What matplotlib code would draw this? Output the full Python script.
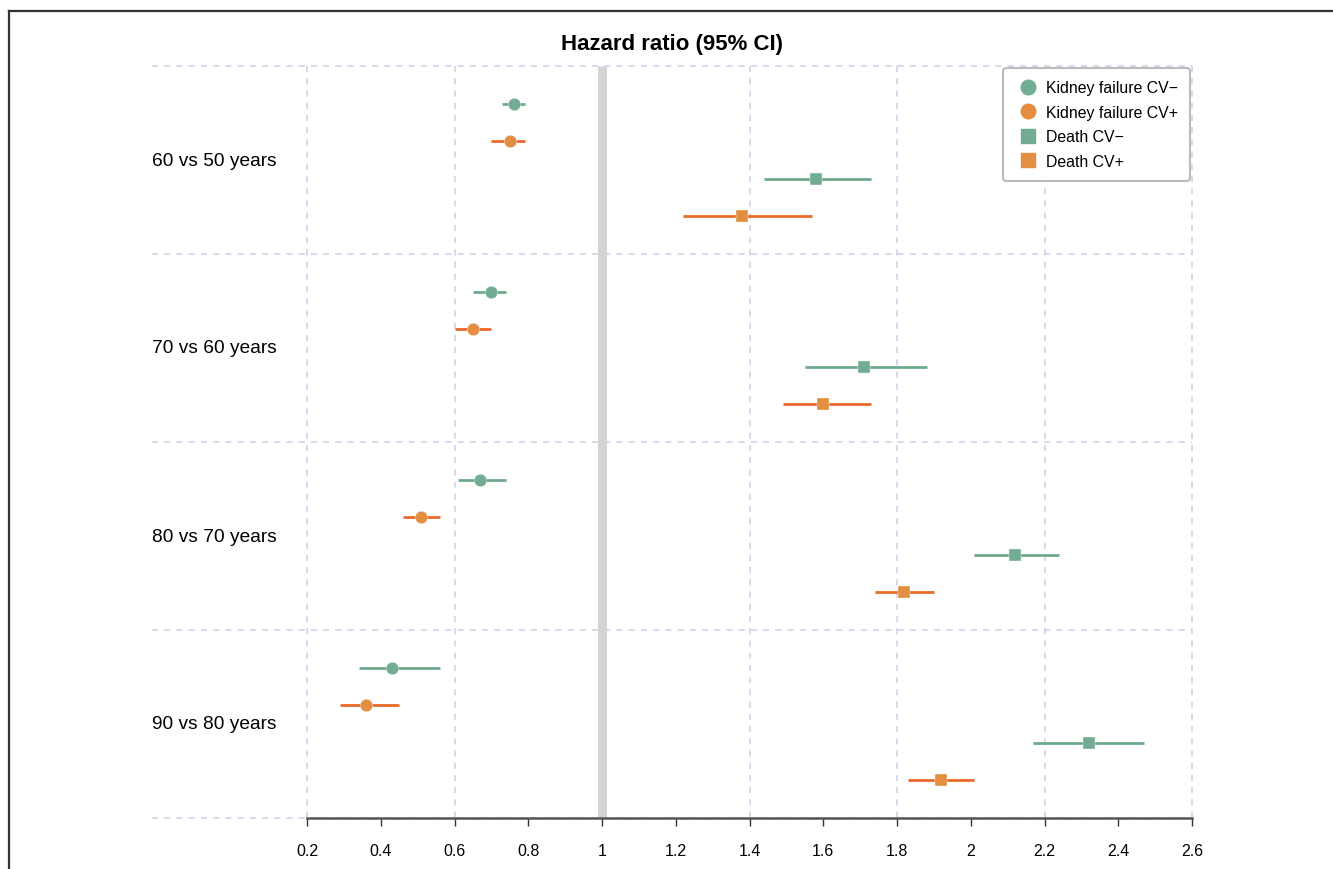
import matplotlib
matplotlib.use("Agg")
import matplotlib.pyplot as plt
from matplotlib.lines import Line2D
import numpy as np

plt.rcParams['font.family'] = ['Liberation Sans', 'DejaVu Sans']

groups = ["60 vs 50 years", "70 vs 60 years", "80 vs 70 years", "90 vs 80 years"]
series = ["Kidney failure CV\u2212", "Kidney failure CV+", "Death CV\u2212", "Death CV+"]

# hazard ratio, lower CI, upper CI per group
kf_neg = [0.76, 0.70, 0.67, 0.43]
kf_neg_lo = [0.73, 0.65, 0.61, 0.34]
kf_neg_hi = [0.79, 0.74, 0.74, 0.56]

kf_pos = [0.75, 0.65, 0.51, 0.36]
kf_pos_lo = [0.70, 0.60, 0.46, 0.29]
kf_pos_hi = [0.79, 0.70, 0.56, 0.45]

d_neg = [1.58, 1.71, 2.12, 2.32]
d_neg_lo = [1.44, 1.55, 2.01, 2.17]
d_neg_hi = [1.73, 1.88, 2.24, 2.47]

d_pos = [1.38, 1.60, 1.82, 1.92]
d_pos_lo = [1.22, 1.49, 1.74, 1.83]
d_pos_hi = [1.57, 1.73, 1.90, 2.01]

xticks = [0.2, 0.4, 0.6, 0.8, 1, 1.2, 1.4, 1.6, 1.8, 2, 2.2, 2.4, 2.6]
xtick_labels = ["0.2", "0.4", "0.6", "0.8", "1", "1.2", "1.4", "1.6", "1.8", "2", "2.2", "2.4", "2.6"]

green_m = "#72AD93"
green_l = "#6DAA8D"
orange_m = "#E38E41"
orange_l = "#EA6A2A"

W, H = 1333, 870
fig = plt.figure(figsize=(W / 100, H / 100), dpi=100)
ax = fig.add_axes([152 / W, 1 - 819 / H, (1192 - 152) / W, (819 - 67) / H])

x_left = 0.2 - (307 - 152) / 368.75
ax.set_xlim(x_left, 2.6)
ax.set_ylim(20, 0)

# grid
grid_c = "#CFCBEA"
for yb in range(0, 21, 5):
    ax.axhline(yb, color=grid_c, lw=1.1, ls=(0, (4, 4)), zorder=1, clip_on=False)
for xg in [0.2, 0.6, 1.4, 1.8, 2.2, 2.6]:
    ax.plot([xg, xg], [0, 20], color=grid_c, lw=1.1, ls=(0, (4, 4)), zorder=1, clip_on=False)

# reference line at 1
ax.plot([1, 1], [0, 20], color="#D3D3D3", lw=6.5, zorder=2, solid_capstyle='butt')

rows = [
    (kf_neg, kf_neg_lo, kf_neg_hi, green_m, green_l, 'o', 9),
    (kf_pos, kf_pos_lo, kf_pos_hi, orange_m, orange_l, 'o', 9),
    (d_neg, d_neg_lo, d_neg_hi, green_m, green_l, 's', 8.5),
    (d_pos, d_pos_lo, d_pos_hi, orange_m, orange_l, 's', 8.5),
]
handles = []
for k, (v, lo, hi, mc, lc, mk, ms) in enumerate(rows):
    ys = np.arange(len(groups)) * 5 + k + 1
    ax.hlines(ys, lo, hi, color=lc, lw=2, zorder=3)
    ax.plot(v, ys, ls='none', marker=mk, ms=ms, color=mc, mec='#F4F4F4', mew=0.3, zorder=4)
    handles.append(Line2D([], [], ls='none', marker=mk, ms=ms + 1.5, color=mc, mec=mc))

for i, g in enumerate(groups):
    ax.text(0, i * 5 + 2.5, g, transform=ax.get_yaxis_transform(), ha='left', va='center',
            fontsize=13.8, color='black')

for s in ['top', 'right', 'left']:
    ax.spines[s].set_visible(False)
ax.spines['bottom'].set_bounds(0.2, 2.6)
ax.spines['bottom'].set_color('#555555')
ax.spines['bottom'].set_linewidth(1.8)
ax.spines['bottom'].set_zorder(5)
ax.set_yticks([])
ax.set_xticks(xticks)
ax.set_xticklabels(xtick_labels, fontsize=11.5)
ax.tick_params(axis='x', length=6, width=1, color='#333333', pad=12)

ax.set_title("Hazard ratio (95% CI)", fontsize=16, fontweight='bold', pad=12)

leg = ax.legend(handles, series, loc='upper right', bbox_to_anchor=(1.0, 1.0), fontsize=11.4,
                frameon=True, fancybox=True, edgecolor='#BBBBBB', framealpha=1,
                borderpad=0.8, labelspacing=0.6, handletextpad=0.3, handlelength=1.6,
                borderaxespad=0.1)
leg.get_frame().set_linewidth(1.5)

# partial frame border of the original image
fig.add_artist(Line2D([9 / W, 1], [1 - 12 / H, 1 - 12 / H], color='#333333', lw=1.6))
fig.add_artist(Line2D([9 / W, 9 / W], [0, 1 - 12 / H], color='#333333', lw=1.6))

fig.savefig("out.png", dpi=100)
